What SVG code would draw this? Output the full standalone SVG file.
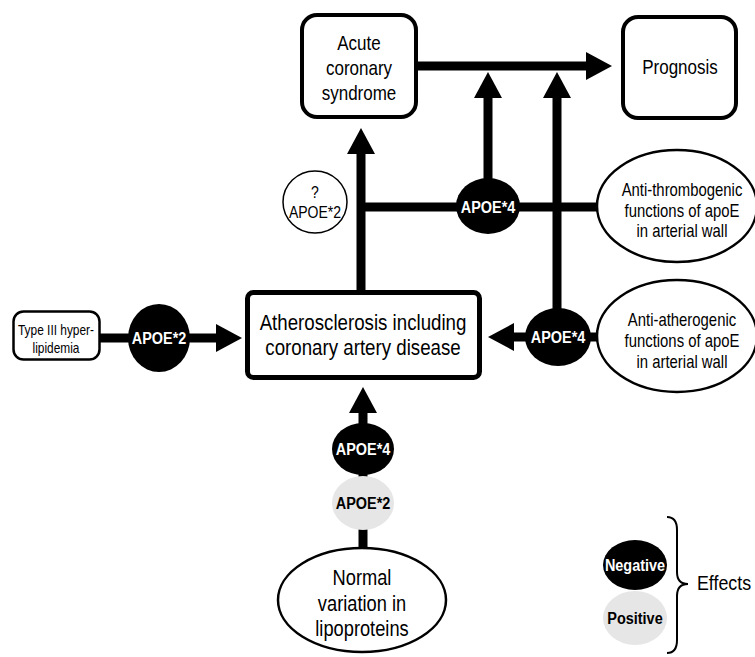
<svg xmlns="http://www.w3.org/2000/svg" width="755" height="657" viewBox="0 0 755 657">
<defs>
<style>
text{font-family:"Liberation Sans",Arial,sans-serif;text-anchor:middle;fill:#000}
.big{font-size:20px}
.mid{font-size:22px}
.nrm{font-size:21.5px}
.anti{font-size:17.5px}
.sm{font-size:14px}
.q{font-size:16.5px}
.lbl{font-size:17px;font-weight:bold}
.w{fill:#fff}
.box{fill:#fff;stroke:#000}
.line{stroke:#000;stroke-width:9;fill:none}
.neg{fill:#000}
.pos{fill:#e6e6e6}
</style>
<marker id="ah" markerUnits="userSpaceOnUse" markerWidth="27" markerHeight="29" refX="0" refY="14" orient="auto" viewBox="0 0 27 29">
<path d="M0,0 L26,14 L0,28 z" fill="#000"/>
</marker>
</defs>
<g id="connectors">
<line class="line" x1="418" y1="66" x2="586" y2="66" marker-end="url(#ah)"/>
<line class="line" x1="361" y1="290" x2="361" y2="154" marker-end="url(#ah)"/>
<line class="line" x1="361" y1="207" x2="597" y2="207"/>
<line class="line" x1="488" y1="180" x2="488" y2="98" marker-end="url(#ah)"/>
<line class="line" x1="557" y1="310" x2="557" y2="98" marker-end="url(#ah)"/>
<line class="line" x1="597" y1="337" x2="514" y2="337" marker-end="url(#ah)"/>
<line class="line" x1="100" y1="338" x2="216" y2="338" marker-end="url(#ah)"/>
<line class="line" x1="363" y1="548" x2="363" y2="413" marker-end="url(#ah)"/>
</g>
<g id="acs">
<rect class="box" x="302" y="15" width="114" height="102" rx="15" stroke-width="4"/>
<text class="big" transform="translate(359 50) scale(0.85 1)">Acute</text>
<text class="big" transform="translate(359 75) scale(0.85 1)">coronary</text>
<text class="big" transform="translate(359 100) scale(0.85 1)">syndrome</text>
</g>
<g id="prognosis">
<rect class="box" x="623" y="17" width="113" height="101" rx="15" stroke-width="4"/>
<text class="big" transform="translate(680 74) scale(0.85 1)">Prognosis</text>
</g>
<g id="athero">
<rect class="box" x="247.5" y="292.5" width="232" height="85" rx="6" stroke-width="5"/>
<text class="mid" transform="translate(363 330) scale(0.85 1)">Atherosclerosis including</text>
<text class="mid" transform="translate(363 355) scale(0.85 1)">coronary artery disease</text>
</g>
<g id="type3">
<rect class="box" x="13.5" y="311.5" width="86" height="48" rx="10" stroke-width="2.5"/>
<text class="sm" transform="translate(56 335) scale(0.85 1)">Type III hyper-</text>
<text class="sm" transform="translate(56 353) scale(0.85 1)">lipidemia</text>
</g>
<g id="q-apoe2">
<ellipse class="box" cx="315" cy="202" rx="32" ry="31" stroke-width="1.5"/>
<text class="q" transform="translate(315 198) scale(0.85 1)">?</text>
<text class="q" transform="translate(315 218) scale(0.85 1)">APOE*2</text>
</g>
<g id="apoe4-top">
<ellipse class="neg" cx="488" cy="206" rx="32" ry="28"/>
<text class="lbl w" transform="translate(488 213) scale(0.85 1)">APOE*4</text>
</g>
<g id="anti-thrombogenic">
<ellipse class="box" cx="677" cy="206" rx="80" ry="56" stroke-width="2.5"/>
<text class="anti" transform="translate(682 196) scale(0.85 1)">Anti-thrombogenic</text>
<text class="anti" transform="translate(682 217) scale(0.85 1)">functions of apoE</text>
<text class="anti" transform="translate(682 237) scale(0.85 1)">in arterial wall</text>
</g>
<g id="apoe4-right">
<ellipse class="neg" cx="558" cy="337" rx="33" ry="29"/>
<text class="lbl w" transform="translate(558 343) scale(0.85 1)">APOE*4</text>
</g>
<g id="anti-atherogenic">
<ellipse class="box" cx="677" cy="336" rx="80" ry="56" stroke-width="2.5"/>
<text class="anti" transform="translate(682 326) scale(0.85 1)">Anti-atherogenic</text>
<text class="anti" transform="translate(682 347) scale(0.85 1)">functions of apoE</text>
<text class="anti" transform="translate(682 368) scale(0.85 1)">in arterial wall</text>
</g>
<g id="apoe2-left">
<ellipse class="neg" cx="159" cy="338" rx="31" ry="34"/>
<text class="lbl w" transform="translate(159 344) scale(0.85 1)">APOE*2</text>
</g>
<g id="apoe4-bottom">
<ellipse class="neg" cx="363" cy="449" rx="31" ry="26"/>
<text class="lbl w" transform="translate(363 455) scale(0.85 1)">APOE*4</text>
</g>
<g id="apoe2-bottom">
<ellipse class="pos" cx="363" cy="503" rx="31" ry="27"/>
<text class="lbl" transform="translate(363 509) scale(0.85 1)">APOE*2</text>
</g>
<g id="normal">
<ellipse class="box" cx="362" cy="600" rx="84" ry="52" stroke-width="2.5"/>
<text class="nrm" transform="translate(362 585) scale(0.85 1)">Normal</text>
<text class="nrm" transform="translate(362 611) scale(0.85 1)">variation in</text>
<text class="nrm" transform="translate(362 636) scale(0.85 1)">lipoproteins</text>
</g>
<g id="legend">
<ellipse class="neg" cx="635" cy="565" rx="32" ry="25"/>
<text class="lbl w" transform="translate(635 571) scale(0.85 1)">Negative</text>
<ellipse class="pos" cx="635" cy="618" rx="32" ry="27"/>
<text class="lbl" transform="translate(635 624) scale(0.85 1)">Positive</text>
<path d="M667,517 Q677,517 677,530 L677,572 Q677,584 688,584 Q677,584 677,596 L677,640 Q677,653 667,653" fill="none" stroke="#000" stroke-width="2"/>
<text transform="translate(724 590) scale(0.85 1)" style="font-size:21px">Effects</text>
</g>
</svg>
